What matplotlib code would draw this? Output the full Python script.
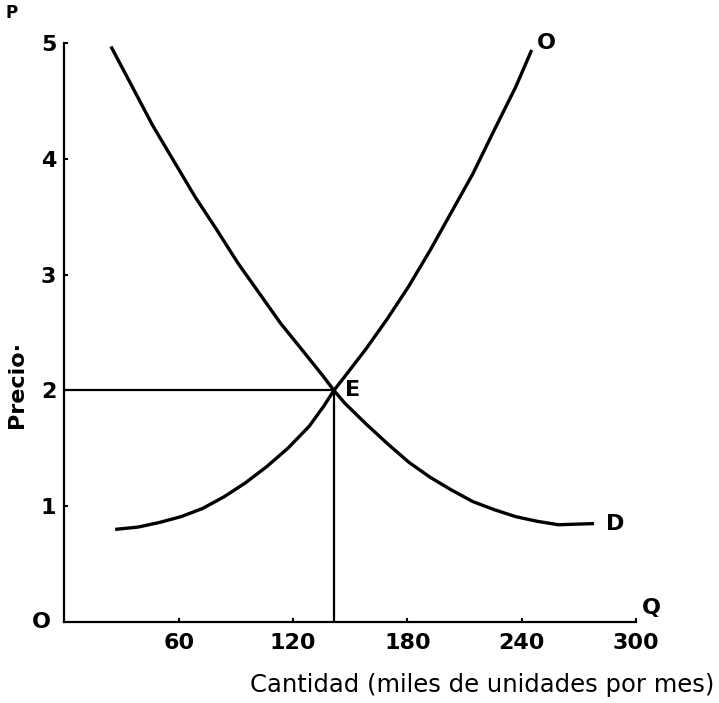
import matplotlib
matplotlib.use("Agg")
from matplotlib import pyplot as plt

# curva de oferta (O)
oferta_q = [26.6, 38.7, 49.9, 61.2, 72.4, 83.6, 94.8, 106.0, 117.2, 128.4, 135.9, 141.4,
            147.1, 158.3, 169.5, 180.7, 191.9, 203.1, 214.3, 225.6, 236.8, 245.2]
oferta_p = [0.80, 0.82, 0.86, 0.91, 0.98, 1.08, 1.20, 1.34, 1.50, 1.69, 1.86, 2.00,
            2.12, 2.36, 2.62, 2.90, 3.21, 3.54, 3.87, 4.25, 4.62, 4.94]

# curva de demanda (D)
demanda_q = [24.4, 35.0, 46.2, 57.4, 68.6, 79.8, 91.0, 102.2, 113.4, 124.7, 135.9, 141.4,
             147.1, 158.3, 169.5, 180.7, 191.9, 203.1, 214.3, 225.6, 236.8, 248.0, 259.2, 277.9]
demanda_p = [4.97, 4.64, 4.29, 3.98, 3.67, 3.39, 3.10, 2.84, 2.58, 2.35, 2.12, 2.00,
             1.89, 1.71, 1.54, 1.38, 1.25, 1.14, 1.04, 0.97, 0.91, 0.87, 0.84, 0.85]

# equilibrio
eq_q = 141.4
eq_p = 2.0

xticks = [60, 120, 180, 240, 300]
yticks = [1, 2, 3, 4, 5]

plt.rcParams['font.family'] = ['DejaVu Sans']

fig = plt.figure(figsize=(7.19, 7.03), dpi=100)
ax = fig.add_axes([0.0897, 0.1152, 0.795, 0.8236])

ax.plot(oferta_q, oferta_p, color='black', lw=2.4, solid_capstyle='butt', solid_joinstyle='round')
ax.plot(demanda_q, demanda_p, color='black', lw=2.4, solid_capstyle='butt', solid_joinstyle='round')
ax.plot([0, eq_q], [eq_p, eq_p], color='black', lw=1.6)
ax.plot([eq_q, eq_q], [0, eq_p], color='black', lw=1.6)

ax.set_xlim(0, 300)
ax.set_ylim(0, 5)
ax.spines['top'].set_visible(False)
ax.spines['right'].set_visible(False)
ax.spines['left'].set_linewidth(1.6)
ax.spines['bottom'].set_linewidth(1.6)

ax.set_xticks(xticks)
ax.set_yticks(yticks)
ax.tick_params(direction='in', length=3, width=1.5)
ax.tick_params(axis='x', pad=8, labelsize=16)
ax.tick_params(axis='y', pad=6, labelsize=16)
for lab in ax.get_xticklabels() + ax.get_yticklabels():
    lab.set_fontweight('bold')

ax.text(-7, 0, 'O', ha='right', va='center', fontsize=16, fontweight='bold', clip_on=False)
ax.text(303, 0.12, 'Q', ha='left', va='center', fontsize=16, fontweight='bold', clip_on=False)
ax.text(-28, 5.26, 'P', ha='center', va='center', fontsize=12, fontweight='bold', clip_on=False)
ax.text(248, 5.0, 'O', ha='left', va='center', fontsize=16, fontweight='bold', clip_on=False)
ax.text(284, 0.85, 'D', ha='left', va='center', fontsize=16, fontweight='bold', clip_on=False)
ax.text(eq_q + 6, eq_p, 'E', ha='left', va='center', fontsize=16, fontweight='bold')

ax.set_ylabel('Precio·', fontsize=16, fontweight='bold')
ax.yaxis.set_label_coords(-0.066, 0.41)
fig.text(0.994, 0.008, 'Cantidad (miles de unidades por mes)', ha='right', va='bottom', fontsize=17.5)

fig.savefig('out.png', dpi=100)
